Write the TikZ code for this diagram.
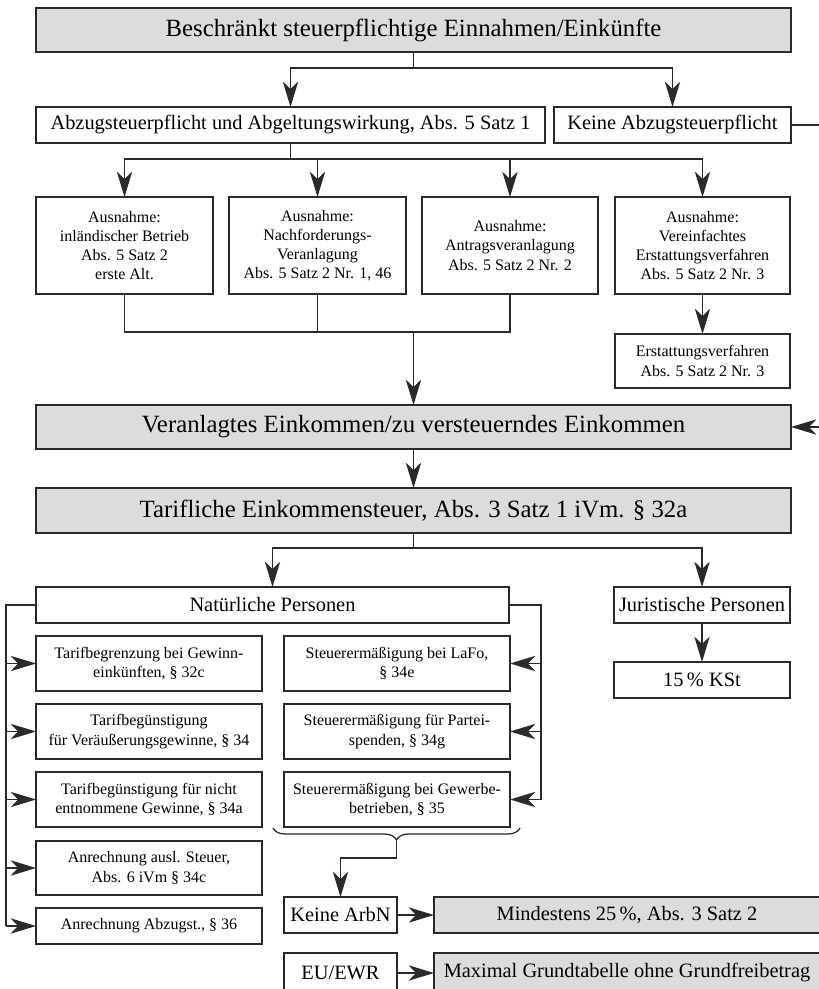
\documentclass[tikz,border=0pt]{standalone}
\usepackage{fontspec}
\setmainfont{Liberation Serif}
\usetikzlibrary{arrows.meta,decorations.pathreplacing}
\definecolor{lin}{HTML}{2A2A2A}
\definecolor{boxgray}{HTML}{DCDCDC}
\begin{document}
\begin{tikzpicture}[x=0.75pt,y=-0.75pt,
  wh/.style n args={2}{minimum width=#1*0.75pt, minimum height=#2*0.75pt},
  box/.style={draw=lin, line width=1pt, fill=white, inner sep=0pt, outer sep=0pt, align=center, text=black},
  graybox/.style={box, fill=boxgray},
  big/.style={font=\fontsize{18.6}{22}\selectfont},
  mid/.style={font=\fontsize{15.3}{18}\selectfont},
  small/.style={font=\fontsize{12}{14.4}\selectfont},
  conn/.style={draw=lin, line width=0.95pt},
  arr/.style={conn, -{Stealth[length=19pt, width=11.5pt, inset=5.5pt]}}
]
\useasboundingbox (0,0) rectangle (818,989);

% top row
\node[graybox, big, wh={755}{44}] (top) at (413.5,30) {Beschränkt steuerpflichtige Einnahmen/Einkünfte};
\node[box, mid, wh={509}{36}] (abz) at (290.5,125) {Abzugsteuerpflicht und Abgeltungswirkung, Abs. 5 Satz 1};
\node[box, mid, wh={237}{36}] (keine) at (672.5,125) {Keine Abzugsteuerpflicht};

% Ausnahmen
\node[box, small, wh={177}{97}] (b1) at (124.5,245.5) {Ausnahme:\\inländischer Betrieb\\Abs. 5 Satz 2\\erste Alt.};
\node[box, small, wh={177}{97}] (b2) at (317.5,245.5) {Ausnahme:\\Nachforderungs-\\Veranlagung\\Abs. 5 Satz 2 Nr. 1, 46};
\node[box, small, wh={176}{97}] (b3) at (510,245.5) {Ausnahme:\\Antragsveranlagung\\Abs. 5 Satz 2 Nr. 2};
\node[box, small, wh={175}{97}] (b4) at (702.5,245.5) {Ausnahme:\\Vereinfachtes\\Erstattungsverfahren\\Abs. 5 Satz 2 Nr. 3};
\node[box, small, wh={175}{54}] (erst) at (702.5,361) {Erstattungsverfahren\\Abs. 5 Satz 2 Nr. 3};

% middle
\node[graybox, big, wh={755}{44}] (ver) at (413.5,427) {Veranlagtes Einkommen/zu versteuerndes Einkommen};
\node[graybox, big, wh={755}{45}] (tar) at (413.5,510.5) {Tarifliche Einkommensteuer, Abs. 3 Satz 1 iVm. § 32a};

\node[box, mid, wh={473}{36}] (nat) at (272.5,605) {Natürliche Personen};
\node[box, mid, wh={176}{36}] (jur) at (702,605) {Juristische Personen};
\node[box, mid, wh={176}{36}] (kst) at (702,680) {15\,\% KSt};

% left column
\node[box, small, wh={226}{55}] (l1) at (149,663.5) {Tarifbegrenzung bei Gewinn-\\einkünften, § 32c};
\node[box, small, wh={226}{55}] (l2) at (149,731.5) {Tarifbegünstigung\\für Veräußerungsgewinne, § 34};
\node[box, small, wh={226}{55}] (l3) at (149,799.5) {Tarifbegünstigung für nicht\\entnommene Gewinne, § 34a};
\node[box, small, wh={226}{54}] (l4) at (149,868) {Anrechnung ausl. Steuer,\\Abs. 6 iVm § 34c};
\node[box, small, wh={226}{36}] (l5) at (149,926) {Anrechnung Abzugst., § 36};

% right column
\node[box, small, wh={226}{55}] (r1) at (397,663.5) {Steuerermäßigung bei LaFo,\\§ 34e};
\node[box, small, wh={226}{55}] (r2) at (397,731.5) {Steuerermäßigung für Partei-\\spenden, § 34g};
\node[box, small, wh={226}{55}] (r3) at (397,799.5) {Steuerermäßigung bei Gewerbe-\\betrieben, § 35};

% bottom
\node[box, mid, wh={113}{36}] (ka) at (340.5,915) {Keine ArbN};
\node[graybox, mid, wh={386}{36}] (mind) at (627,915) {Mindestens 25\,\%, Abs. 3 Satz 2};
\node[box, mid, wh={113}{40}] (eu) at (340.5,973) {EU/EWR};
\node[graybox, mid, wh={386}{40}] (maxi) at (627,973) {Maximal Grundtabelle ohne Grundfreibetrag};

% connectors
\coordinate (j1) at (413.5,68);
\draw[conn] (top.south) -- (j1);
\draw[arr] (j1) -| (abz.north);
\draw[arr] (j1) -| (keine.north);

\coordinate (kr) at (832,125);
\draw[arr] (keine.east) -- (kr) -- (kr |- ver.east) -- (ver.east);

\coordinate (j2) at (290.5,159);
\draw[conn] (abz.south) -- (j2);
\draw[arr] (j2) -| (b1.north);
\draw[arr] (j2) -| (b2.north);
\draw[arr] (j2) -| (b3.north);
\draw[arr] (j2) -| (b4.north);

\coordinate (j3) at (413.5,332);
\draw[conn] (b1.south) |- (j3);
\draw[conn] (b2.south) |- (j3);
\draw[conn] (b3.south) |- (j3);
\draw[arr] (j3) -- (ver.north);

\draw[arr] (b4.south) -- (erst.north);
\draw[arr] (ver.south) -- (tar.north);

\coordinate (j4) at (413.5,548);
\draw[conn] (tar.south) -- (j4);
\draw[arr] (j4) -| (nat.north);
\draw[arr] (j4) -| (jur.north);
\draw[arr] (jur.south) -- (kst.north);

\coordinate (lb) at (6,605);
\draw[conn] (nat.west) -- (lb) -- (lb |- l5.west);
\draw[arr] (lb |- l1.west) -- (l1.west);
\draw[arr] (lb |- l2.west) -- (l2.west);
\draw[arr] (lb |- l3.west) -- (l3.west);
\draw[arr] (lb |- l4.west) -- (l4.west);
\draw[arr] (lb |- l5.west) -- (l5.west);

\coordinate (rb) at (541,605);
\draw[conn] (nat.east) -- (rb) -- (rb |- r3.east);
\draw[arr] (rb |- r1.east) -- (r1.east);
\draw[arr] (rb |- r2.east) -- (r2.east);
\draw[arr] (rb |- r3.east) -- (r3.east);

\coordinate (bl) at (273,828);
\coordinate (br) at (520,828);
\draw[conn, decorate, decoration={brace, mirror, amplitude=9pt}] (bl) -- (br);
\coordinate (bt) at (396.5,840);
\coordinate (j5) at (396.5,858);
\draw[arr] (bt) -- (j5) -| (ka.north);

\draw[arr] (ka.east) -- (mind.west);
\draw[arr] (eu.east) -- (maxi.west);
\end{tikzpicture}
\end{document}
